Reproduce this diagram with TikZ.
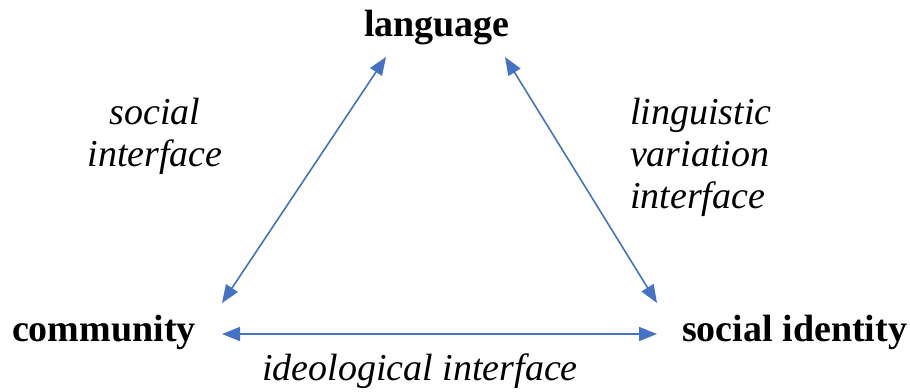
\documentclass[tikz,border=0pt]{standalone}
\usepackage{fontspec}
\setmainfont{Liberation Serif}
\usepackage{tikz}
\usetikzlibrary{arrows.meta, positioning, calc}
\definecolor{linkblue}{HTML}{4472C4}

\begin{document}
\begin{tikzpicture}[
    x=0.5pt, y=-0.5pt,
    every node/.style={inner sep=0pt, outer sep=0pt, font=\fontsize{19pt}{21pt}\selectfont},
    term/.style={font=\fontsize{19pt}{21pt}\selectfont\bfseries},
    iface/.style={font=\fontsize{19pt}{21pt}\selectfont\itshape},
    link/.style={<->, >={Triangle[length=9pt, width=7pt]}, line width=0.8pt, draw=linkblue}
]
\useasboundingbox (0,0) rectangle (910,391);
\node[term, anchor=base] (lang) at (437,36) {language};
\node[term, anchor=base west] (comm) at (12,341) {community};
\node[term, anchor=base east] (ident) at (907,341) {social identity};
% base of a multi-line node is its last line
\node[iface, align=center, anchor=base] (social) at (155,166) {social\\interface};
\node[iface, align=left, anchor=base west] (ling) at (630,208) {linguistic\\variation\\interface};
\node[iface, anchor=base] (ideo) at (420,380) {ideological interface};
\draw[link] ([shift={(210,-38)}]comm.base west) -- ([shift={(-51,21)}]lang.base);
\draw[link] ([shift={(68,21)}]lang.base) -- ([shift={(-250,-38)}]ident.base east);
\draw[link] ([shift={(210,-7)}]comm.base west) -- ([shift={(-250,-7)}]ident.base east);
\end{tikzpicture}
\end{document}
